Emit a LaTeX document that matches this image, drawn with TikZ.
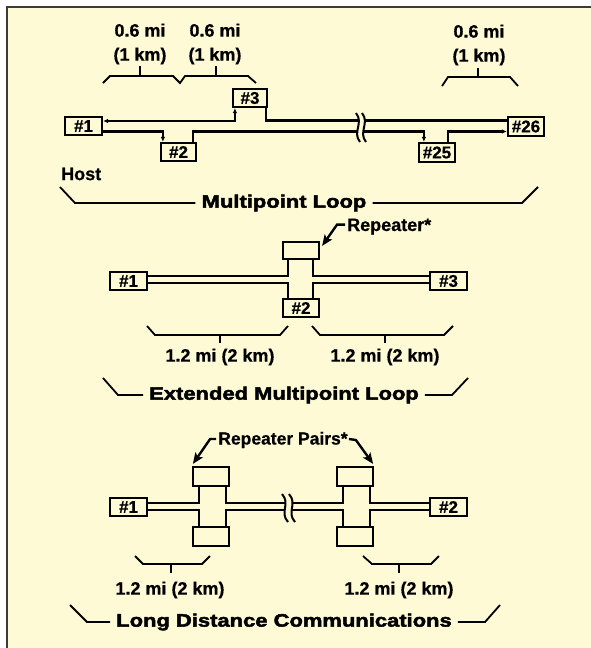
\documentclass[tikz,border=0pt]{standalone}
\usepackage{fontspec}
\setmainfont{Liberation Sans}
\newfontfamily\heavyfont[FakeBold=2.6,FakeStretch=1.22]{Liberation Sans Bold}
\newfontfamily\lblfont[FakeBold=0.6]{Liberation Sans Bold}
\usetikzlibrary{arrows.meta,calc}
\definecolor{cream}{RGB}{255,250,214}
\definecolor{framegray}{RGB}{60,60,60}
\begin{document}
\begin{tikzpicture}[x=1pt,y=-1pt,
  nbox/.style={draw, line width=2.2pt, fill=cream, inner sep=0pt, font=\lblfont\fontsize{17}{17}\selectfont},
  conn/.style={line width=2.1pt},
  brk/.style={line width=2pt},
  bracel/.style={line width=1.8pt},
  lbl/.style={font=\lblfont\fontsize{18}{24}\selectfont, inner sep=0pt, align=center},
  ttl/.style={font=\heavyfont\fontsize{18}{18}\selectfont, inner xsep=6pt, inner ysep=0pt},
  arrS/.style={-{Latex[length=5pt,width=4.5pt]}},
  arrSS/.style={{Latex[length=5pt,width=4.5pt]}-{Latex[length=5pt,width=4.5pt]}},
  bigarr/.style={line width=2.4pt, -{Stealth[length=11pt,width=9pt,inset=2.5pt]}},
]
\useasboundingbox (0,0) rectangle (591,648);
\fill[white] (0,0) rectangle (591,648);
\fill[cream] (7,7) rectangle (591,648);
\draw[framegray, line width=2pt] (7,648) -- (7,7) -- (591,7);

% ---------- Section 1: Multipoint Loop ----------
\node[nbox, minimum width=37pt, minimum height=18pt] (n1) at (83.5,126) {\#1};
\node[nbox, minimum width=35pt, minimum height=18pt] (n2) at (178.5,152) {\#2};
\node[nbox, minimum width=34pt, minimum height=18pt] (n3) at (250,98) {\#3};
\node[nbox, minimum width=36pt, minimum height=19pt] (n25) at (437,152.5) {\#25};
\node[nbox, minimum width=36pt, minimum height=19pt] (n26) at (526,126.5) {\#26};

\draw[conn, arrSS] (n1.east |- 0,121) -| ($(n3.south west)+(3,0)$);
\draw[conn] ($(n3.south east)+(-2,0)$) |- (n26.west |- 0,120.5);
\draw[conn, arrS] (n1.east |- 0,131.5) -| ($(n2.north west)+(3,0)$);
\coordinate (a2) at ($(n2.north east)+(-4,0)$);
\coordinate (a25) at ($(n25.north west)+(6,0)$);
\draw[conn, arrS] (a2) -- (a2 |- 0,131.5) -- (a25 |- 0,131.5) -- (a25);
\draw[conn, arrS] ($(n25.north east)+(-8,0)$) |- (n26.west |- 0,131.5);

\fill[cream] (356,113) .. controls (364,123) and (352,132) .. (360,142) -- (366,142) .. controls (358,132) and (370,123) .. (362,113) -- cycle;
\draw[brk] (356,113) .. controls (364,123) and (352,132) .. (360,142);
\draw[brk] (362,113) .. controls (370,123) and (358,132) .. (366,142);

\draw[bracel] (103,83) -- (110,76) -- (173,76) -- (180,83) -- (185,76) -- (248,76) -- (256,83);
\draw[bracel] (140,66) -- (140,76);
\draw[bracel] (216,66) -- (216,76);
\draw[bracel] (442,86) -- (448,77) -- (510,77) -- (518,86);
\draw[bracel] (478,68) -- (478,77);
\node[lbl] (d1) at (140,44) {0.6 mi\\(1 km)};
\node[lbl] (d2) at (215,44) {0.6 mi\\(1 km)};
\node[lbl] (d3) at (479,45) {0.6 mi\\(1 km)};

\node[lbl, anchor=west] (host) at (61,174) {Host};

\node[ttl] (t1) at (284,203) {Multipoint Loop};
\draw[bracel] (60,187) -- (75,203) -- (t1.west);
\draw[bracel] (t1.east) -- (522,203) -- (538,187);

% ---------- Section 2: Extended Multipoint Loop ----------
\node[nbox, minimum width=37pt, minimum height=18pt] (e1) at (128.5,281) {\#1};
\node[nbox, minimum width=37pt, minimum height=18pt] (e3) at (448.5,281) {\#3};
\node[nbox, minimum width=36pt, minimum height=17pt] (rep) at (301,250.5) {};
\node[nbox, minimum width=36pt, minimum height=18pt] (e2) at (301,308) {\#2};

\draw[conn] (e1.east |- 0,276) -| ($(rep.south west)+(6,0)$);
\draw[conn] (e1.east |- 0,283) -| ($(e2.north west)+(6,0)$);
\draw[conn] (e3.west |- 0,276) -| ($(rep.south east)+(-7,0)$);
\draw[conn] (e3.west |- 0,283) -| ($(e2.north east)+(-7,0)$);

\node[lbl, anchor=base west] (rl) at (347,231) {Repeater*};
\draw[bigarr] ($(rl.west)+(-2,-2)$) -- ++(-8,0) -- ($(rep.north east)+(2,5)$);

\draw[bracel] (147,326) -- (155,335) -- (280,335) -- (288,326);
\draw[bracel] (220,335) -- (220,343);
\draw[bracel] (312,326) -- (320,335) -- (444,335) -- (453,326);
\draw[bracel] (385,335) -- (385,343);
\node[lbl] (m1) at (220,357) {1.2 mi (2 km)};
\node[lbl] (m2) at (385,357) {1.2 mi (2 km)};

\node[ttl] (t2) at (284,395) {Extended Multipoint Loop};
\draw[bracel] (103,378) -- (118,395) -- (t2.west);
\draw[bracel] (t2.east) -- (452,395) -- (468,378);

% ---------- Section 3: Long Distance Communications ----------
\node[nbox, minimum width=37pt, minimum height=18pt] (l1) at (128.5,507) {\#1};
\node[nbox, minimum width=37pt, minimum height=18pt] (l2) at (448.5,507) {\#2};
\node[nbox, minimum width=36pt, minimum height=19pt] (pAt) at (211,476.5) {};
\node[nbox, minimum width=36pt, minimum height=19pt] (pAb) at (211,536.5) {};
\node[nbox, minimum width=36pt, minimum height=19pt] (pBt) at (355,476.5) {};
\node[nbox, minimum width=36pt, minimum height=19pt] (pBb) at (355,536.5) {};

\draw[conn] (l1.east |- 0,503) -| ($(pAt.south west)+(7,0)$);
\draw[conn] (l1.east |- 0,510) -| ($(pAb.north west)+(7,0)$);
\draw[conn] (l2.west |- 0,503) -| ($(pBt.south east)+(-4,0)$);
\draw[conn] (l2.west |- 0,510) -| ($(pBb.north east)+(-4,0)$);
\coordinate (pAtR) at ($(pAt.south east)+(-4,0)$);
\coordinate (pAbR) at ($(pAb.north east)+(-4,0)$);
\coordinate (pBtL) at ($(pBt.south west)+(7,0)$);
\coordinate (pBbL) at ($(pBb.north west)+(7,0)$);
\draw[conn] (pAtR) -- (pAtR |- 0,503) -- (pBtL |- 0,503) -- (pBtL);
\draw[conn] (pAbR) -- (pAbR |- 0,510) -- (pBbL |- 0,510) -- (pBbL);

\fill[cream] (282,494) .. controls (291,504) and (279,512) .. (288,522) -- (295,522) .. controls (286,512) and (298,504) .. (289,494) -- cycle;
\draw[brk] (282,494) .. controls (291,504) and (279,512) .. (288,522);
\draw[brk] (289,494) .. controls (298,504) and (286,512) .. (295,522);

\node[lbl, font=\lblfont\fontsize{17.5}{20}\selectfont] (rp) at (283,440) {Repeater Pairs*};
\draw[bigarr] ($(rp.west)+(-2,-1)$) -- ++(-6,0) -- ($(pAt.north west)+(1,-2)$);
\draw[bigarr] ($(rp.east)+(1,-1)$) -- ++(7,1) -- ($(pBt.north east)+(-1,-2)$);

\draw[bracel] (135,556) -- (143,564) -- (202,564) -- (210,556);
\draw[bracel] (171,564) -- (171,573);
\draw[bracel] (363,556) -- (372,564) -- (431,564) -- (439,556);
\draw[bracel] (399,564) -- (399,573);
\node[lbl] (m3) at (170,590) {1.2 mi (2 km)};
\node[lbl] (m4) at (399,590) {1.2 mi (2 km)};

\node[ttl] (t3) at (284,622) {Long Distance Communications};
\draw[bracel] (70,605) -- (87,622) -- (t3.west);
\draw[bracel] (t3.east) -- (485,622) -- (500,605);
\end{tikzpicture}
\end{document}
